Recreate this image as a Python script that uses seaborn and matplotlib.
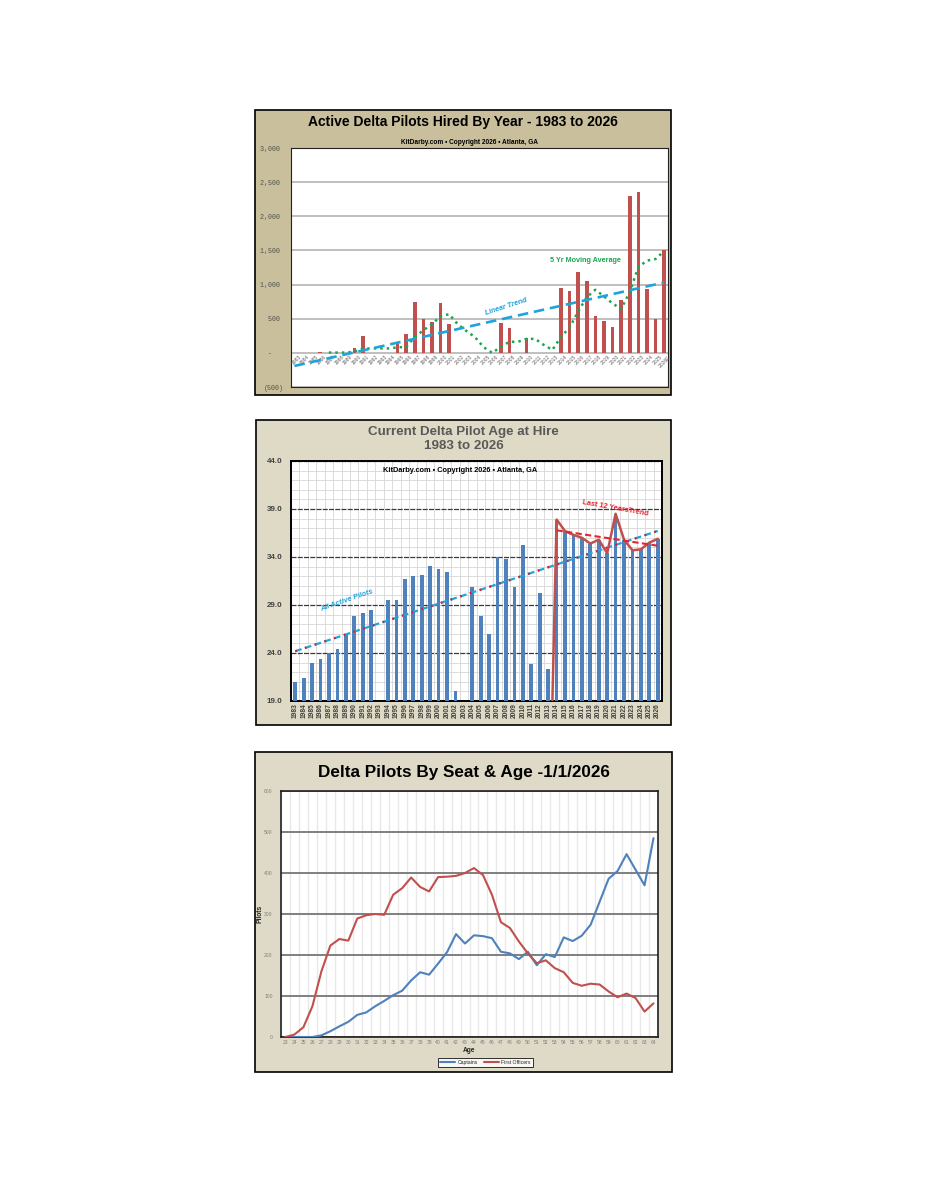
import numpy as np
import pandas as pd
import matplotlib.pyplot as plt
import seaborn as sns
from matplotlib.patches import Rectangle

# ==============================================================
# DATI
# ==============================================================

years = list(range(1983, 2027))
year_labels_1 = [str(y) for y in years[:-1]] + ["2026E"]

# Grafico 1: piloti assunti per anno
hired = [0, 0, 5, 15, 0, 0, 0, 70, 250, 5, 0, 0, 150, 275, 740, 490, 450, 730, 420,
         0, 0, 0, 0, 0, 440, 370, 0, 215, 0, 0, 0, 950, 900, 1180, 1050, 540, 465, 385,
         770, 2300, 2360, 940, 500, 1500]
# media mobile 5 anni (linea verde)
ma5 = [np.nan] * 4 + [4, 4, 4, 17, 64, 65, 65, 65, 81, 86,
                      233, 331, 421, 537, 566, 418, 320, 230, 84, 0,
                      88, 162, 162, 205, 205, 117, 43, 233, 370, 606,
                      816, 924, 827, 724, 642, 892, 1256, 1351, 1374, 1490]
y1_ticks = [-500, 0, 500, 1000, 1500, 2000, 2500, 3000]
y1_labels = ["(500)", "  -   ", "  500 ", "1,000 ", "1,500 ", "2,000 ", "2,500 ", "3,000 "]

# Grafico 2: eta' all'assunzione
age_hire = [21.0, 21.4, 23.0, 23.4, 24.0, 24.4, 26.0, 27.9, 28.2, 28.5, np.nan,
            29.5, 29.5, 31.7, 32.0, 32.1, 33.1, 32.7, 32.4, 20.0, np.nan,
            30.9, 27.9, 26.0, 34.0, 33.8, 30.9, 35.3, 22.9, 30.2, 22.3,
            37.9, 36.7, 36.3, 36.0, 35.4, 35.8, 34.4, 38.5, 35.8, 34.7, 34.8, 35.5, 35.9]
recent_years = years[30:]                 # 2013..2026
recent_age = [0.0] + age_hire[31:]        # serie rossa (2013 fuori scala)
y2_ticks = [19, 24, 29, 34, 39, 44]
y2_labels = ["19.0", "24.0", "29.0", "34.0", "39.0", "44.0"]

# Grafico 3: piloti per posto ed eta'
ages = list(range(23, 65))
captains = [0, 0, 0, 0, 4, 14, 26, 37, 54, 60, 75, 88, 102, 113,
            138, 158, 152, 179, 207, 251, 228, 248, 246, 241,
            208, 204, 190, 208, 175, 202, 195, 243, 234, 247,
            274, 330, 386, 405, 446, 408, 370, 485]
first_officers = [0, 6, 24, 75, 160, 223, 239, 235, 289, 297,
                  300, 298, 347, 363, 389, 366, 355, 390, 391, 393,
                  400, 412, 395, 347, 280, 266, 233, 204, 180, 187,
                  168, 158, 132, 125, 130, 128, 111, 97, 106, 95, 62, 82]

# ==============================================================
# STILE
# ==============================================================

sns.set_theme(style="white")
plt.rcParams["font.family"] = ["Liberation Sans", "DejaVu Sans"]

W, H = 927, 1200
fig = plt.figure(figsize=(W / 100, H / 100), dpi=100)
fig.patch.set_facecolor("white")


def pannello(x0, y0, x1, y1, colore):
    # rettangolo di sfondo, coordinate in pixel dall'alto a sinistra
    r = Rectangle((x0 / W, 1 - y1 / H), (x1 - x0) / W, (y1 - y0) / H,
                  transform=fig.transFigure, facecolor=colore,
                  edgecolor="black", linewidth=1.2, zorder=-1)
    fig.add_artist(r)


def assi(x0, y0, x1, y1):
    ax = fig.add_axes([x0 / W, 1 - y1 / H, (x1 - x0) / W, (y1 - y0) / H])
    ax.set_facecolor("white")
    return ax


# ==============================================================
# 1) ASSUNTI PER ANNO
# ==============================================================

pannello(255, 110, 671, 395, "#C9BF9C")
ax1 = assi(291, 148, 668, 387)
df1 = pd.DataFrame({"anno": years, "assunti": hired, "media5": ma5})

sns.barplot(data=df1, x="anno", y="assunti", native_scale=True, width=0.42,
            color="#C0504D", saturation=1, errorbar=None, linewidth=0, ax=ax1, zorder=3)
sns.lineplot(data=df1, x="anno", y="media5", color="#1AA64F", linestyle=(0, (1, 1.6)),
             linewidth=1.8, ax=ax1, zorder=4)
sns.regplot(data=df1, x="anno", y="assunti", scatter=False, ci=None, truncate=True,
            line_kws=dict(color="#1FA3DC", linestyle=(0, (4, 2.2)), linewidth=1.9, zorder=5),
            ax=ax1)

ax1.set_xlim(1982.6, 2026.45)
ax1.set_ylim(-500, 3000)
ax1.set_yticks(y1_ticks)
ax1.set_yticklabels(y1_labels, family="Liberation Mono", fontsize=4.8, color="#505050")
ax1.tick_params(axis="y", length=0, pad=5)
ax1.set_xticks([])
ax1.set_xlabel("")
ax1.set_ylabel("")
ax1.grid(axis="y", color="#B4B4B4", linewidth=1.2)
ax1.set_axisbelow(True)
for s in ax1.spines.values():
    s.set_color("#222222")
    s.set_linewidth(0.8)

for yr, lab in zip(years, year_labels_1):
    ax1.text(yr + 0.45, -25, lab, rotation=45, ha="right", va="top",
             rotation_mode="anchor", fontsize=3.6, color="#606060")

ax1.text(0.57, 0.336, "Linear Trend", transform=ax1.transAxes, rotation=18,
         ha="center", va="center", fontsize=5.2, fontweight="bold", style="italic",
         color="#1FA3DC")
ax1.text(0.78, 0.531, "5 Yr Moving Average", transform=ax1.transAxes,
         ha="center", va="center", fontsize=5.2, fontweight="bold", color="#1AA64F")

fig.text(0.499, 1 - 122 / H, "Active Delta Pilots Hired By Year - 1983 to 2026",
         ha="center", va="center", fontsize=10, fontweight="bold", color="black")
fig.text(469.7 / W, 1 - 142 / H, "KitDarby.com • Copyright 2026 • Atlanta, GA",
         ha="center", va="center", fontsize=4.7, fontweight="bold", color="black")

# ==============================================================
# 2) ETA' ALL'ASSUNZIONE
# ==============================================================

pannello(256, 420, 671, 725, "#DEDAC5")
ax2 = assi(291, 461, 662, 701)
df2 = pd.DataFrame({"anno": years, "eta": age_hire})
df2r = pd.DataFrame({"anno": recent_years, "eta": recent_age})

sns.barplot(data=df2, x="anno", y="eta", native_scale=True, width=0.44,
            color="#4F81BD", saturation=1, errorbar=None, linewidth=0, ax=ax2, zorder=3)
sns.regplot(data=df2, x="anno", y="eta", scatter=False, ci=None, truncate=True,
            line_kws=dict(color="#22A4DE", linestyle=(0, (3, 1.6)), linewidth=1.6, zorder=5),
            ax=ax2)
sns.regplot(data=df2, x="anno", y="eta", scatter=False, ci=None, truncate=True,
            line_kws=dict(color="#D9202A", linestyle=(0, (0.8, 3.8)), linewidth=1.6, zorder=6),
            ax=ax2)
sns.lineplot(data=df2r, x="anno", y="eta", color="#C0504D", linewidth=1.8, ax=ax2, zorder=7)
sns.regplot(data=df2r.iloc[1:], x="anno", y="eta", scatter=False, ci=None, truncate=True,
            line_kws=dict(color="#E3262E", linestyle=(0, (3, 1.6)), linewidth=1.5, zorder=8),
            ax=ax2)

ax2.set_xlim(1982.6, 2026.5)
ax2.set_ylim(19, 44)
ax2.set_yticks(y2_ticks)
ax2.set_yticklabels(y2_labels, fontsize=5.8, fontweight="bold", color="#404040")
ax2.set_yticks(np.arange(19, 44, 1.0), minor=True)
ax2.set_xticks(years)
ax2.set_xticklabels([str(y) for y in years], rotation=90, fontsize=4.8,
                    fontweight="bold", color="#404040")
ax2.set_xticks(np.arange(1982.5, 2026.6, 1.0), minor=True)
ax2.tick_params(which="both", length=0)
ax2.tick_params(axis="y", pad=6)
ax2.tick_params(axis="x", pad=1.5)
ax2.grid(which="minor", axis="both", color="#D6D6D6", linewidth=0.6)
ax2.grid(which="major", axis="y", color="#3A3A3A", linewidth=0.9, linestyle=(0, (4, 1)))
ax2.set_axisbelow(True)
ax2.set_xlabel("")
ax2.set_ylabel("")
for s in ax2.spines.values():
    s.set_color("black")
    s.set_linewidth(1.4)

ax2.text(0.455, 0.96, "KitDarby.com • Copyright 2026 • Atlanta, GA", transform=ax2.transAxes,
         ha="center", va="center", fontsize=5.3, fontweight="bold", color="black")
ax2.text(0.151, 0.42, "All Active Pilots", transform=ax2.transAxes, rotation=19,
         ha="center", va="center", fontsize=5.3, fontweight="bold", style="italic",
         color="#22A4DE")
ax2.text(0.875, 0.803, "Last 12 YearsTrend", transform=ax2.transAxes, rotation=-10,
         ha="center", va="center", fontsize=5.3, fontweight="bold", color="#E3262E")

fig.text(0.5, 1 - 432 / H, "Current Delta Pilot Age at Hire",
         ha="center", va="center", fontsize=9.6, fontweight="bold", color="#595959")
fig.text(0.5, 1 - 445.5 / H, "1983 to 2026",
         ha="center", va="center", fontsize=9.6, fontweight="bold", color="#595959")

# ==============================================================
# 3) PILOTI PER POSTO ED ETA'
# ==============================================================

pannello(255, 752, 672, 1072, "#DEDAC7")
ax3 = assi(281, 791, 658, 1037)
df3 = pd.DataFrame({"Age": ages, "Captains": captains, "First Officers": first_officers})
lungo = df3.melt(id_vars="Age", var_name="Seat", value_name="Pilots")

sns.lineplot(data=lungo, x="Age", y="Pilots", hue="Seat",
             palette={"Captains": "#4F81BD", "First Officers": "#C0504D"},
             linewidth=1.5, ax=ax3, zorder=4)

ax3.set_xlim(22.5, 64.5)
ax3.set_ylim(0, 600)
ax3.set_xticks(ages)
ax3.set_xticklabels([str(a) for a in ages], fontsize=3.6, color="#7F7F7F")
ax3.set_yticks(range(0, 601, 100))
ax3.set_yticklabels([str(v) for v in range(0, 601, 100)], fontsize=3.6, color="#7F7F7F")
ax3.set_xticks(np.arange(22.5, 64.6, 1.0), minor=True)
ax3.tick_params(which="both", length=0)
ax3.tick_params(axis="y", pad=6)
ax3.tick_params(axis="x", pad=2)
ax3.grid(which="minor", axis="x", color="#E9E9E9", linewidth=1.0)
ax3.grid(which="major", axis="y", color="#7F7F7F", linewidth=1.4)
ax3.grid(which="major", axis="x", visible=False)
ax3.set_axisbelow(True)
ax3.set_xlabel("Age", fontsize=4.8, fontweight="bold", labelpad=1.5)
ax3.set_ylabel("Pilots", fontsize=4.8, fontweight="bold", labelpad=0.5)
for s in ax3.spines.values():
    s.set_color("#202020")
    s.set_linewidth(1.2)

handles, labels = ax3.get_legend_handles_labels()
leg = ax3.legend(handles, labels, loc="center", bbox_to_anchor=(485.5 / W, 1 - 1062.5 / H),
                 bbox_transform=fig.transFigure, ncol=2, fontsize=3.7, frameon=True,
                 fancybox=False, edgecolor="black", handlelength=3, handletextpad=0.4,
                 columnspacing=1.2, borderpad=0.35)
leg.get_frame().set_linewidth(0.7)
leg.get_frame().set_facecolor("white")

fig.text(464 / W, 1 - 773 / H, "Delta Pilots By Seat & Age -1/1/2026",
         ha="center", va="center", fontsize=12.3, fontweight="bold", color="black")

plt.savefig("out.png", dpi=100)
